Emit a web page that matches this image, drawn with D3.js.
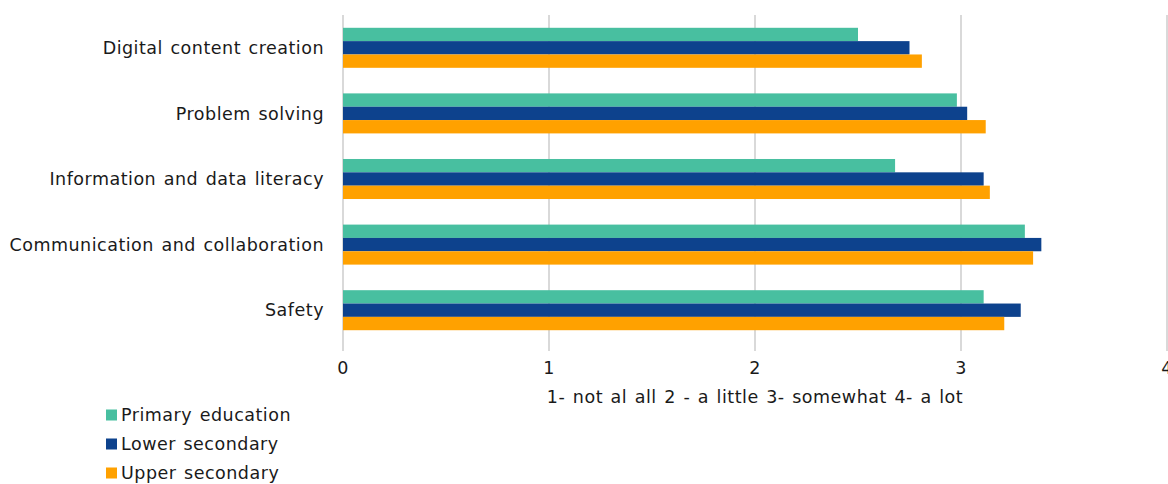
<!DOCTYPE html>
<html>
<head>
<meta charset="utf-8">
<script src="https://cdn.jsdelivr.net/npm/d3@7"></script>
<style>
  html, body { margin: 0; padding: 0; background: #fff; }
  svg { display: block; font-family: "DejaVu Sans", Verdana, sans-serif; }
  svg text { font-size: 17.5px; letter-spacing: 0.5px; word-spacing: 1.5px; fill: #1a1a1a; }
</style>
</head>
<body>
<svg id="chart" width="1168" height="484"></svg>
<script>
// Digital competence areas, top to bottom
const categories = [
  "Digital content creation",
  "Problem solving",
  "Information and data literacy",
  "Communication and collaboration",
  "Safety"
];
const seriesNames = ["Primary education", "Lower secondary", "Upper secondary"];
const seriesColors = ["#48bfa0", "#0d428d", "#ffa100"];
const primaryValues = [2.50, 2.98, 2.68, 3.31, 3.11];
const lowerValues   = [2.75, 3.03, 3.11, 3.39, 3.29];
const upperValues   = [2.81, 3.12, 3.14, 3.35, 3.21];
const xTicks = [0, 1, 2, 3, 4];
const xTitle = "1- not al all 2 - a little 3- somewhat 4- a lot";

const seriesValues = [primaryValues, lowerValues, upperValues];

const svg = d3.select("#chart");
const margin = { left: 343, right: 1, top: 15, bottom: 141 };
const W = 1168, H = 484;
const plotBottom = H - margin.bottom;

const x = d3.scaleLinear().domain([0, 4]).range([margin.left, W - margin.right]);
const y = d3.scaleBand().domain(categories).range([margin.top, plotBottom]).paddingInner(0.39).paddingOuter(0.195);
const ySub = d3.scaleBand().domain(d3.range(seriesNames.length)).range([0, y.bandwidth()]);

// Vertical gridlines with short tick extensions below the plot
svg.append("g").selectAll("line")
  .data(xTicks)
  .join("line")
  .attr("x1", d => x(d)).attr("x2", d => x(d))
  .attr("y1", margin.top).attr("y2", plotBottom + 8)
  .attr("stroke", "#d9d9d9")
  .attr("stroke-width", 2);

// Bars
const groups = svg.append("g").selectAll("g")
  .data(categories)
  .join("g")
  .attr("transform", d => `translate(0,${y(d)})`);

groups.selectAll("rect")
  .data((c, i) => seriesValues.map((vals, s) => ({ s, v: vals[i] })))
  .join("rect")
  .attr("x", x(0))
  .attr("y", d => ySub(d.s))
  .attr("width", d => x(d.v) - x(0))
  .attr("height", ySub.bandwidth())
  .attr("fill", d => seriesColors[d.s]);

// Category labels
svg.append("g").selectAll("text")
  .data(categories)
  .join("text")
  .attr("x", margin.left - 19)
  .attr("y", d => y(d) + y.bandwidth() / 2)
  .attr("dy", "0.35em")
  .attr("text-anchor", "end")
  .text(d => d);

// X tick labels
svg.append("g").selectAll("text")
  .data(xTicks)
  .join("text")
  .attr("x", d => x(d))
  .attr("y", 368)
  .attr("dy", "0.35em")
  .attr("text-anchor", "middle")
  .text(d => d);

// X axis title
svg.append("text")
  .attr("x", x(2))
  .attr("y", 397)
  .attr("dy", "0.35em")
  .attr("text-anchor", "middle")
  .text(xTitle);

// Legend
const legend = svg.append("g").selectAll("g")
  .data(seriesNames)
  .join("g")
  .attr("transform", (d, i) => `translate(106,${415 + i * 29})`);
legend.append("rect")
  .attr("x", 0).attr("y", -5.5)
  .attr("width", 11).attr("height", 11)
  .attr("fill", (d, i) => seriesColors[i]);
legend.append("text")
  .attr("x", 15)
  .attr("dy", "0.35em")
  .text(d => d);
</script>
</body>
</html>
